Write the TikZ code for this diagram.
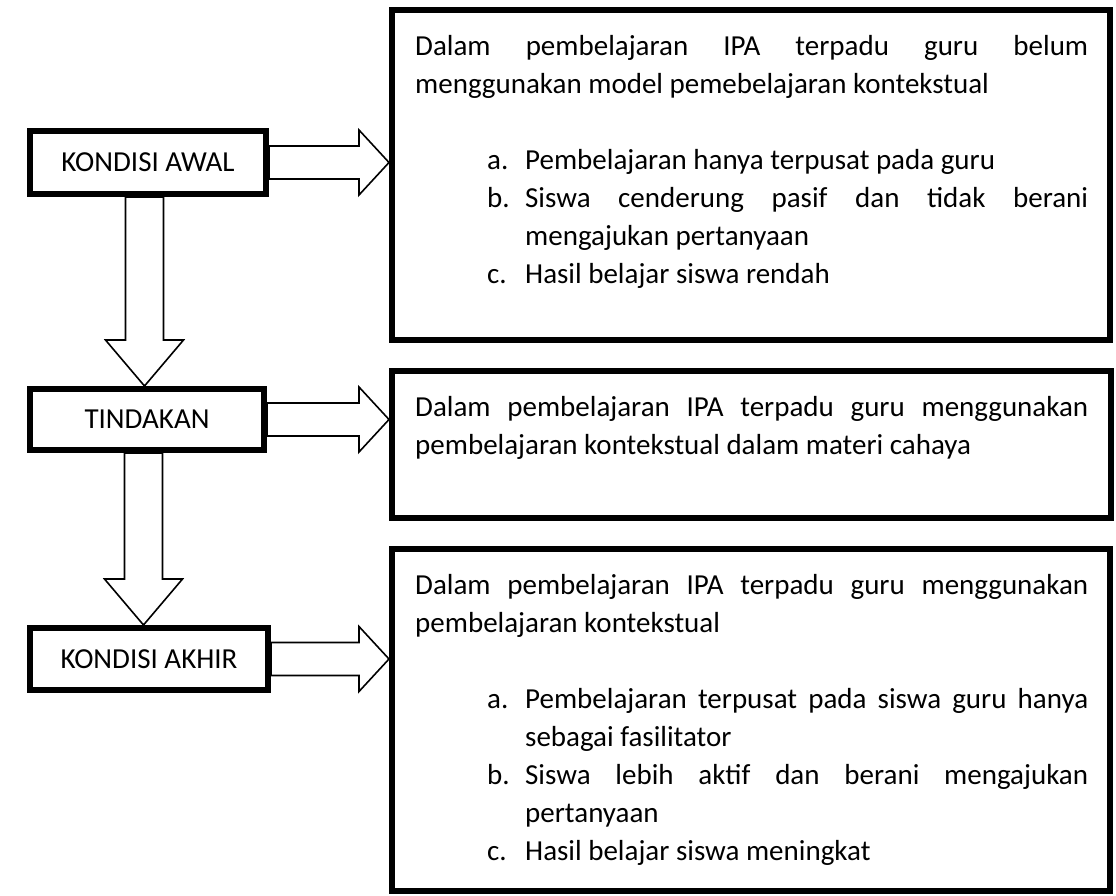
\documentclass[tikz,border=0pt]{standalone}
\usepackage{fontspec}
\setmainfont{Carlito}
\usetikzlibrary{calc}
\tolerance=10000
\hbadness=10000
\hyphenpenalty=10000
\newcommand{\itm}[2]{\par\hangindent=110pt\hangafter=1\noindent\makebox[110pt][l]{\hspace*{72pt}#1}#2}
\newcommand{\rightblock}[2]{%
  \draw[blockarrow] let \p1=(#1.east), \p2=(#2.west) in
    (\x1,\y1+16.5pt) -- (\x2-30pt,\y1+16.5pt) -- (\x2-30pt,\y1+32.5pt) -- (\x2,\y1)
    -- (\x2-30pt,\y1-32.5pt) -- (\x2-30pt,\y1-16.5pt) -- (\x1,\y1-16.5pt) -- cycle;}
\newcommand{\downblock}[2]{%
  \draw[blockarrow] let \p1=(#1.south), \p2=(#2.north) in
    (\x1-3.5pt-19pt,\y1) -- (\x1-3.5pt-19pt,\y2+46pt) -- (\x1-3.5pt-39pt,\y2+46pt) -- (\x1-3.5pt,\y2)
    -- (\x1-3.5pt+39pt,\y2+46pt) -- (\x1-3.5pt+19pt,\y2+46pt) -- (\x1-3.5pt+19pt,\y1) -- cycle;}
\begin{document}
\begin{tikzpicture}[x=1pt,y=-1pt,
  bigbox/.style={draw, line width=6pt, inner sep=0pt, anchor=north west},
  labelbox/.style={draw, line width=6pt, inner sep=0pt, anchor=north west, font=\fontsize{29}{35}\selectfont},
  body/.style={anchor=base west, text width=673pt, inner sep=0pt, align=justify, font=\fontsize{29}{38}\selectfont},
  blockarrow/.style={draw, line width=1.6pt, fill=white, line join=miter}]
\useasboundingbox (0,0) rectangle (1116,895);

\node[bigbox, minimum width=718pt, minimum height=330pt] (b1) at (389,7) {};
\node[bigbox, minimum width=719pt, minimum height=147pt] (b2) at (389,368) {};
\node[bigbox, minimum width=718pt, minimum height=342pt] (b3) at (389,546) {};

\node[labelbox, minimum width=236pt, minimum height=63pt] (awal) at (27,128) {KONDISI AWAL};
\node[labelbox, minimum width=234pt, minimum height=61pt] (tind) at (27,386) {TINDAKAN};
\node[labelbox, minimum width=238pt, minimum height=62pt] (akhir) at (27,625) {KONDISI AKHIR};

\node[body] (t1) at (415,55) {Dalam pembelajaran IPA terpadu guru belum\linebreak menggunakan model pemebelajaran kontekstual\par\vspace{38pt}
\itm{a.}{Pembelajaran hanya terpusat pada guru}
\itm{b.}{Siswa cenderung pasif dan tidak berani\linebreak mengajukan pertanyaan}
\itm{c.}{Hasil belajar siswa rendah}};

\node[body] (t2) at (415,416) {Dalam pembelajaran IPA terpadu guru menggunakan\linebreak pembelajaran kontekstual dalam materi cahaya};

\node[body] (t3) at (415,594) {Dalam pembelajaran IPA terpadu guru menggunakan\linebreak pembelajaran kontekstual\par\vspace{38pt}
\itm{a.}{Pembelajaran terpusat pada siswa guru hanya\linebreak sebagai fasilitator}
\itm{b.}{Siswa lebih aktif dan berani mengajukan\linebreak pertanyaan}
\itm{c.}{Hasil belajar siswa meningkat}};

\rightblock{awal}{b1}
\rightblock{tind}{b2}
\rightblock{akhir}{b3}
\downblock{awal}{tind}
\downblock{tind}{akhir}
\end{tikzpicture}
\end{document}
